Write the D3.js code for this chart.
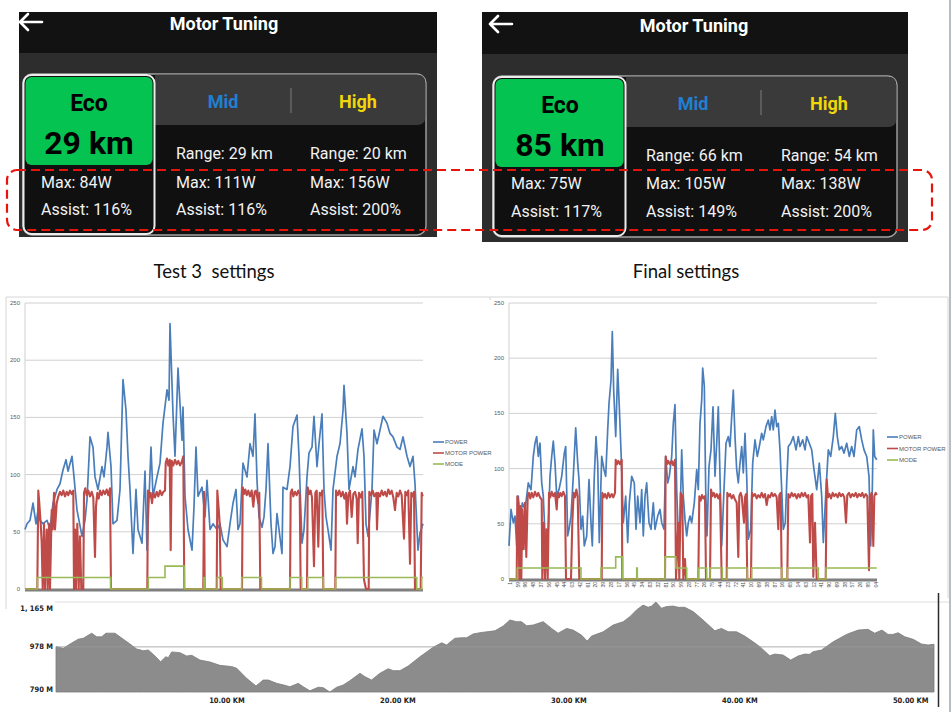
<!DOCTYPE html>
<html><head><meta charset="utf-8">
<script src="https://cdn.jsdelivr.net/npm/d3@7"></script>
<style>body{margin:0;background:#fff}svg{display:block}</style>
</head><body><svg id="c" width="951" height="712"></svg>
<script>
// ---------------- DATA ----------------
const screenTitle = "Motor Tuning";
const modeNames = ["Eco", "Mid", "High"];
const test3Range = ["29 km", "29 km", "20 km"];
const test3Max = ["84W", "111W", "156W"];
const test3Assist = ["116%", "116%", "200%"];
const finalRange = ["85 km", "66 km", "54 km"];
const finalMax = ["75W", "105W", "138W"];
const finalAssist = ["117%", "149%", "200%"];
const panelTitles = ["Test 3  settings", "Final settings"];
const seriesNames = ["POWER", "MOTOR POWER", "MODE"];
const powerTicks = [0, 50, 100, 150, 200, 250];

// Test 3 ride: [sample, watts]
const t3PowerT = [0,2,5,8,11,13,15,18,22,25,28,32,35,38,41,43,47,49,52,54,57,60,62,65,68,70,73,77,79,82,83,86,88,92,95,98,101,103,105,108,111,113,117,120,122,126,128,132,135,138,142,144,145,148,150,153,157,158,160,163,167,169,171,173,177,180,182,185,188,192,195,198,202,205,208,211,213,215,218,222,225,228,230,232,234,237,239,241,243,246,248,250,252,254,257,258,262,265,268,272,274,277,279,282,284,287,289,292,294,297,299,301,303,306,308,312,315,318,319,322,324,328,330,333,337,339,341,343,347,349,352,355,358,362,365,368,372,375,378,382,385,388,390,392,393,395,398];
const t3PowerV = [52,57,60,75,57,69,60,57,60,52,75,87,92,104,113,103,116,98,69,60,46,60,78,133,124,98,87,107,98,124,137,107,57,60,87,183,156,116,87,31,87,52,40,103,34,124,81,98,110,145,174,165,232,153,116,193,130,159,81,52,34,72,124,81,89,63,95,52,57,52,57,43,37,57,75,87,52,57,110,98,127,116,153,95,63,54,63,87,127,57,31,37,66,52,31,89,87,107,142,152,116,40,52,98,119,124,151,107,127,153,87,63,52,34,87,116,127,156,178,136,87,107,98,122,140,116,57,46,87,139,127,139,151,145,136,133,124,122,133,116,107,116,92,52,34,49,57];
const t3Motor = [[0,0],[12.3,0],[13.3,86],[14.3,75],[15.7,57],[16.7,40],[17.7,0],[19,57],[20,0],[21.7,52],[22.7,0],[24,57],[25,0],[26.7,69],[27.7,52],[29,84],[30,52],[31.7,75],[33.3,81],[35,85],[36.7,82],[38.3,86],[40,81],[41.7,85],[43.3,82],[45,86],[46.7,83],[48.3,86],[49,0],[50,52],[51,0],[52.3,57],[53.7,0],[55,46],[56.3,0],[58.3,0],[59,84],[60.3,88],[61.7,82],[63.3,86],[65,81],[66.7,85],[68.3,80],[70,28],[71,72],[72.3,84],[73.7,79],[75,86],[76.7,82],[78.3,86],[80,83],[81.7,87],[83.3,82],[85,88],[86,0],[122.3,0],[123,86],[124.3,80],[125.7,84],[127,75],[128.3,84],[130,80],[131.7,85],[133.3,81],[135,86],[136.7,82],[138.3,85],[140,86],[140.7,110],[142,114],[143.3,108],[144.7,113],[145.7,34],[146.7,112],[148.3,108],[150,113],[151.7,109],[153.3,112],[155,108],[156.7,111],[158.3,116],[159.3,0],[178.3,0],[179,85],[179.7,0],[191.7,0],[192.3,86],[193.7,70],[194.7,57],[195.7,0],[217,0],[217.7,89],[219,83],[220.3,87],[221.7,82],[223.3,86],[225,81],[226.7,86],[228.3,72],[229.7,85],[231,86],[232.3,80],[233.3,75],[234.3,84],[235.3,0],[265,0],[265.7,84],[267,87],[268.3,81],[270,85],[271.7,82],[273.3,86],[274.7,83],[275.7,0],[282,0],[282.7,89],[284.3,83],[285.7,86],[287,80],[289,20],[290.3,84],[291.7,86],[293.3,37],[294.7,84],[296,82],[297.3,86],[298.3,0],[310.3,0],[311,86],[312.7,82],[314.3,86],[316,81],[317.7,85],[319.3,79],[321,84],[322,57],[323.3,82],[325,86],[326.7,63],[328.3,83],[330,85],[331.7,79],[332.7,40],[334,84],[335.7,80],[337.3,85],[339,8],[341,0],[343.7,0],[344.3,85],[346,82],[347.7,86],[349.3,81],[351.3,84],[352,52],[353.3,84],[355,81],[356.7,86],[358.3,82],[360,85],[361.7,81],[363.3,87],[365,83],[366.7,86],[368.3,80],[370,69],[371.7,84],[373.3,81],[375,86],[376.7,82],[379,44],[380.3,85],[381.7,82],[383.3,86],[385,22],[386.3,84],[387.7,81],[389,85],[390,0],[395.7,0],[396.7,84],[397.7,81]];
const t3Mode = [[0,0],[12.3,10],[85.7,0],[123.3,10],[140,20],[159.3,0],[179,10],[179.7,0],[192.3,10],[197.3,0],[216.7,10],[236.5,0],[265,10],[276.7,0],[282.7,10],[298.3,0],[310.7,10],[391.7,0],[396.7,10],[398,10]];

// Final ride: [sample, watts]
const finPower = [[0,30],[2,63],[4.3,51],[6,57],[7.7,30],[9.3,75],[11,51],[13.3,69],[16,63],[17.7,75],[19.3,87],[22,81],[24.3,111],[26,123],[27.7,129],[29.3,111],[31,123],[32.7,87],[34.3,75],[36,39],[37.7,30],[39.3,45],[41,93],[42.7,111],[44.3,125],[46,105],[47.7,75],[50,81],[52.7,93],[55.3,114],[56.7,120],[58.7,39],[60,45],[62,57],[64.3,93],[66.7,137],[68.7,105],[70,90],[72,45],[73.7,57],[75.3,30],[77.7,39],[80,90],[82,51],[83.3,30],[85.3,93],[87,129],[88.7,105],[90.3,33],[92.7,111],[95,99],[96.7,93],[98.7,135],[100,159],[102,180],[103.3,224],[104.7,171],[106.7,129],[108.7,190],[110.3,156],[112.7,99],[114.3,51],[116.7,75],[118.7,33],[120.3,69],[122.7,93],[125.3,87],[127,45],[128.7,75],[131,51],[132.7,81],[134.3,39],[136,75],[137.7,87],[140,51],[142,45],[144.3,69],[146,45],[148.7,57],[151,63],[152.7,51],[155,45],[156.7,111],[158.7,87],[160.3,93],[162.7,111],[164.3,141],[166,158],[167.7,81],[169.3,39],[171,51],[172.7,117],[174.3,75],[176,54],[177.7,39],[179.3,51],[181,57],[182.7,51],[185.3,69],[187.7,99],[189.3,81],[191,141],[192.7,162],[193.7,191],[195.3,175],[196.7,81],[198,39],[200,102],[202,117],[204,156],[206,93],[207.7,123],[209.3,156],[212.7,30],[215,81],[217,123],[219.3,129],[221,120],[222.7,147],[224.3,171],[226,129],[227.7,99],[229.3,87],[231,105],[232.7,120],[234.3,96],[236,132],[237.7,93],[239.3,36],[241.7,45],[243.7,105],[246,126],[248.3,111],[250.3,120],[252.7,132],[254.3,126],[257,138],[259.3,144],[261,135],[262.7,147],[264.3,135],[266,153],[267.7,138],[269.3,141],[271,117],[272.7,81],[274.3,45],[276.3,51],[277.7,87],[279.3,120],[281.7,123],[284.3,129],[287,117],[289.3,129],[291,120],[293.7,126],[296,117],[297.7,129],[300.3,123],[302.7,117],[305,99],[307.7,81],[310.3,105],[312.7,75],[314.3,33],[317,81],[319.3,117],[321.7,111],[324.3,129],[326.3,150],[328.3,129],[330.3,117],[332.7,120],[335,114],[337.7,123],[340.3,111],[342.7,120],[345,111],[347.7,135],[350.3,138],[352.7,126],[355,117],[357.7,111],[360,93],[361.7,30],[363.3,81],[364.3,135],[365.7,111],[367.7,108]];
const finMotor = [[0,0],[7.7,0],[8.3,75],[9.3,69],[10.3,0],[11.3,66],[12.3,0],[13.3,63],[14.7,27],[16,69],[17.3,20],[18.7,75],[20,78],[21.3,73],[22.7,78],[24.3,74],[26,79],[27.7,75],[29.3,78],[31,74],[32.7,72],[33.3,0],[34.7,51],[36,0],[37.3,45],[38.7,0],[40,78],[41.3,74],[42.7,79],[44.3,75],[46,78],[47.7,63],[48.7,78],[50,74],[51.3,78],[52.7,75],[54.3,79],[56,75],[57,0],[62,0],[63.3,51],[64.7,78],[66,74],[67.3,81],[68.7,75],[70.3,0],[92.7,0],[93.3,78],[94.7,74],[96,77],[97.7,73],[99.3,78],[101,74],[102.7,77],[104.3,74],[106,78],[106.7,108],[108,104],[109.3,107],[111,104],[112.7,108],[113.3,0],[156,0],[156.7,111],[158,104],[159.3,107],[161,104],[162.7,107],[164.3,103],[166,108],[167,0],[169.3,51],[170.3,0],[171.7,78],[173.3,75],[174.3,0],[176,18],[177,0],[189.3,0],[190.3,75],[191.7,71],[193,76],[194.3,73],[196,75],[197,0],[201,0],[202,81],[203.3,75],[204.7,78],[206,74],[207.7,77],[209.3,73],[211,77],[212.7,0],[217.7,0],[218.3,78],[219.7,75],[221,77],[222.7,73],[224.3,76],[226,72],[227.7,69],[229.3,20],[230.3,75],[231.7,78],[232.7,75],[235,51],[236,74],[237,77],[238.3,0],[242,0],[243,78],[244.3,75],[246,77],[247.7,73],[249.3,76],[251,74],[252.7,78],[254.3,74],[256,77],[257.7,67],[259.3,76],[261,74],[262.7,78],[264.3,75],[266,77],[267.7,74],[269.3,45],[270.3,76],[271.7,78],[272.7,0],[278.3,0],[279.3,77],[281,74],[282.7,78],[284.3,75],[286,77],[287.7,73],[289.3,77],[291,74],[292.7,78],[294.3,75],[296,78],[297.7,74],[299.3,76],[301,33],[302,75],[303.3,77],[304.3,2],[306,51],[307.7,0],[316.7,0],[317.7,90],[319,74],[320.3,77],[322,73],[323.7,78],[325.3,75],[327,77],[328.7,74],[330.3,78],[332,75],[333.7,77],[335.3,74],[337,51],[338.3,76],[340,78],[341.7,74],[343.3,77],[345,75],[346.7,78],[348.3,74],[350,77],[351.7,75],[353.3,78],[355,74],[356.7,77],[358.3,75],[360,8],[361,75],[362.7,78],[364.3,30],[365.3,75],[366.7,78],[367.7,76]];
const finMode = [[0,0],[8.3,10],[72,0],[92,10],[106.7,20],[113.7,0],[127.7,10],[128.3,0],[156,20],[166.7,10],[177.7,0],[189.3,10],[197.7,0],[201,10],[213.3,0],[218.3,10],[238.3,0],[242.7,10],[272.7,0],[278.3,10],[309.3,0],[317,10],[367.7,10]];
const finCategoryLabels = ["1","59","96","48","37","56","45","44","03","42","61","20","39","28","17","56","45","34","83","32","81","50","59","28","77","26","75","44","23","72","41","10","69","38","87","16","65","14","63","12","41","90","69","38","57","26","95","04"];

// Elevation profile: [km, metres]
const elevation = [[0,979],[0.43,972],[0.82,990],[1.30,1010],[1.60,1014],[2.09,1035],[2.38,1020],[2.67,1020],[2.92,1035],[3.45,1035],[3.74,1020],[4.23,995],[4.72,969],[5.11,962],[5.40,965],[5.79,940],[6.12,916],[6.42,937],[6.57,933],[6.77,957],[7.25,954],[7.64,940],[7.94,943],[8.42,923],[9.01,915],[9.59,901],[10.27,896],[10.57,889],[11.15,847],[11.70,815],[12.12,840],[12.42,840],[12.91,826],[13.39,818],[13.68,812],[14.17,826],[14.46,812],[14.85,795],[15.34,810],[15.63,808],[16.02,790],[16.42,810],[16.80,819],[17.19,837],[17.78,868],[18.07,854],[18.46,840],[18.95,868],[19.43,887],[19.73,879],[20.12,879],[20.60,898],[21.29,937],[22.06,976],[22.56,995],[22.85,986],[23.33,1014],[23.73,1016],[24.02,1016],[24.40,1032],[24.80,1037],[24.99,1039],[25.67,1045],[26.16,1065],[26.55,1090],[26.94,1083],[27.23,1083],[27.53,1066],[27.91,1069],[28.50,1083],[28.99,1055],[29.37,1035],[29.87,1055],[30.25,1048],[30.74,1027],[31.07,1002],[31.33,1023],[32.01,1041],[32.59,1069],[33.18,1083],[33.57,1104],[33.96,1132],[34.34,1152],[34.64,1143],[34.84,1148],[35.09,1165],[35.42,1139],[35.71,1146],[36.10,1148],[36.39,1143],[36.78,1143],[37.27,1125],[37.85,1090],[38.54,1045],[38.93,1055],[39.32,1041],[39.81,1041],[40.29,1023],[40.78,999],[41.17,979],[41.75,941],[42.05,948],[42.53,944],[42.98,923],[43.41,940],[43.80,948],[44.09,947],[44.29,958],[44.78,965],[45.46,999],[46.24,1030],[46.92,1048],[47.50,1051],[47.89,1035],[48.32,1048],[48.67,1030],[48.96,1030],[49.26,1037],[49.65,1020],[50.13,1010],[50.63,990],[51.01,986],[51.36,989]];
const elevTicks = [790, 978, 1165];
const elevTickLabels = ["790 M", "978 M", "1, 165 M"];
const kmTicks = [10, 20, 30, 40, 50];
const kmTickLabels = ["10.00 KM", "20.00 KM", "30.00 KM", "40.00 KM", "50.00 KM"];

// ---------------- DRAW ----------------
const svg = d3.select("#c");
const COL = {power: "#4a7ebb", motor: "#be4b48", mode: "#98b954"};

function drawPhone(L, range, max, assist) {
  const g = svg.append("g");
  g.append("rect").attr("x", L.x0).attr("y", L.y0).attr("width", L.x1 - L.x0).attr("height", L.y1 - L.y0).attr("fill", "#2d2d2d");
  g.append("rect").attr("x", L.x0).attr("y", L.y0).attr("width", L.x1 - L.x0).attr("height", L.hb - L.y0).attr("fill", "#121212");
  g.append("path").attr("d", `M${L.ax + 22},${L.ay}H${L.ax}M${L.ax + 8},${L.ay - 8}L${L.ax},${L.ay}L${L.ax + 8},${L.ay + 8}`)
    .attr("fill", "none").attr("stroke", "#fff").attr("stroke-width", 2.6).attr("stroke-linecap", "round").attr("stroke-linejoin", "round");
  g.append("text").attr("x", L.tcx).attr("y", L.ty).attr("text-anchor", "middle").attr("dominant-baseline", "central")
    .attr("font-family", "Roboto").attr("font-weight", "bold").attr("font-size", 18).attr("fill", "#fff").text(screenTitle);
  g.append("rect").attr("x", L.pl).attr("y", L.pt).attr("width", L.pr - L.pl).attr("height", L.pb - L.pt).attr("rx", 9)
    .attr("fill", "#101010").attr("stroke", "#a3a3a3").attr("stroke-width", 1.4);
  g.append("path").attr("d", `M${L.er},${L.pt + 0.8}H${L.pr - 9}Q${L.pr - 0.8},${L.pt + 0.8} ${L.pr - 0.8},${L.pt + 9}V${L.tb - 8}Q${L.pr - 0.8},${L.tb} ${L.pr - 9},${L.tb}H${L.er}Z`)
    .attr("fill", "#3a3a3a");
  g.append("line").attr("x1", L.sx).attr("x2", L.sx).attr("y1", L.pt + 14).attr("y2", L.tb - 12).attr("stroke", "#6e6e6e").attr("stroke-width", 1.3);
  g.append("rect").attr("x", L.pl + 0.5).attr("y", L.pt + 1).attr("width", L.er - L.pl - 1).attr("height", L.pb - L.pt - 2).attr("rx", 8)
    .attr("fill", "#101010").attr("stroke", "#ececec").attr("stroke-width", 2);
  g.append("rect").attr("x", L.pl + 2.5).attr("y", L.pt + 3).attr("width", L.er - L.pl - 5).attr("height", L.gb - L.pt - 3).attr("rx", 6)
    .attr("fill", "#05c350");
  const txt = (x, y, s, o) => g.append("text").attr("x", x).attr("y", y).attr("dominant-baseline", "central")
    .attr("font-family", "Roboto").attr("font-size", o.size).attr("font-weight", o.w || "normal")
    .attr("text-anchor", o.anchor || "start").attr("fill", o.fill || "#f2f2f2").text(s);
  txt(L.ecx, L.yEco, modeNames[0], {size: 23, w: "bold", anchor: "middle", fill: "#000"});
  txt(L.ecx, L.yKm, range[0], {size: 32, w: "bold", anchor: "middle", fill: "#000"});
  txt(L.mcx, L.yTab, modeNames[1], {size: 18, w: "bold", anchor: "middle", fill: "#1f80d2"});
  txt(L.hcx, L.yTab, modeNames[2], {size: 18, w: "bold", anchor: "middle", fill: "#f1d60a"});
  for (let i = 1; i < 3; i++) txt(L.cols[i], L.yRange, "Range: " + range[i], {size: 16});
  for (let i = 0; i < 3; i++) {
    txt(L.cols[i], L.yMax, "Max: " + max[i], {size: 16});
    txt(L.cols[i], L.yAssist, "Assist: " + assist[i], {size: 16});
  }
}

drawPhone({x0: 19, y0: 12, x1: 437, y1: 237, hb: 53, ax: 20, ay: 22, tcx: 224, ty: 23,
  pl: 23, pr: 426, pt: 74, pb: 235, tb: 125, er: 155, gb: 165, sx: 291,
  ecx: 89, mcx: 223, hcx: 358, yTab: 101, yEco: 103, yKm: 143, yRange: 153, yMax: 182, yAssist: 209,
  cols: [41, 176, 310]}, test3Range, test3Max, test3Assist);
drawPhone({x0: 482, y0: 12, x1: 908, y1: 242, hb: 54, ax: 490, ay: 24, tcx: 694, ty: 25,
  pl: 493, pr: 897, pt: 76, pb: 237, tb: 127, er: 626, gb: 167, sx: 761,
  ecx: 560, mcx: 693, hcx: 829, yTab: 103, yEco: 105, yKm: 145, yRange: 155, yMax: 183, yAssist: 211,
  cols: [511, 646, 781]}, finalRange, finalMax, finalAssist);

svg.append("rect").attr("x", 7).attr("y", 170).attr("width", 925).attr("height", 60).attr("rx", 10)
  .attr("fill", "none").attr("stroke", "#e8140c").attr("stroke-width", 2.2).attr("stroke-dasharray", "9,5");

svg.selectAll("text.ptitle").data(panelTitles).join("text").attr("class", "ptitle")
  .attr("x", (d, i) => [214, 686][i]).attr("y", 278).attr("text-anchor", "middle")
  .attr("font-family", "Lato").attr("font-size", 18.5).attr("fill", "#111")
  .style("white-space", "pre").text(d => d);

svg.append("path").attr("d", "M6,609V297H490").attr("fill", "none").attr("stroke", "#d6d6d6");
svg.append("path").attr("d", "M490,300V297H948V598").attr("fill", "none").attr("stroke", "#d6d6d6");

function drawPowerChart(C, power, motor, mode, cats) {
  const x = d3.scaleLinear().domain(C.dom).range([C.l, C.r]);
  const y = d3.scaleLinear().domain([0, 250]).range([C.b, C.t]);
  const g = svg.append("g");
  g.append("g").selectAll("line").data(powerTicks.filter(d => d > 0)).join("line")
    .attr("x1", C.l).attr("x2", C.r).attr("y1", d => y(d)).attr("y2", d => y(d))
    .attr("stroke", "#d0d0d0").attr("stroke-width", 1);
  g.append("line").attr("x1", C.l).attr("x2", C.l).attr("y1", y(250)).attr("y2", y(0)).attr("stroke", "#cfcfcf");
  g.append("g").selectAll("text").data(powerTicks).join("text")
    .attr("x", C.l - 5).attr("y", d => y(d)).attr("text-anchor", "end").attr("dominant-baseline", "central")
    .attr("font-family", "Liberation Sans").attr("font-size", 6).attr("fill", "#595959").text(d => d);
  g.append("line").attr("x1", C.l).attr("x2", C.r).attr("y1", y(0) + 1).attr("y2", y(0) + 1)
    .attr("stroke", "#7f7f7f").attr("stroke-width", 3);
  if (cats) {
    const xc = d3.scalePoint().domain(d3.range(cats.length)).range([C.l + 1, C.r - 1]);
    g.append("g").selectAll("text").data(cats).join("text")
      .attr("transform", (d, i) => `translate(${xc(i) + 1.8},${y(0) + 3}) rotate(-90)`)
      .attr("text-anchor", "end").attr("font-family", "Liberation Sans").attr("font-size", 5).attr("fill", "#4a4a4a").text(d => d);
  }
  const line = d3.line().x(d => x(d[0])).y(d => y(d[1]));
  g.append("path").attr("d", line(power)).attr("fill", "none").attr("stroke", COL.power).attr("stroke-width", 1.7).attr("stroke-linejoin", "round");
  g.append("path").attr("d", line(motor)).attr("fill", "none").attr("stroke", COL.motor).attr("stroke-width", 2.1).attr("stroke-linejoin", "round");
  g.append("path").attr("d", line.curve(d3.curveStepAfter)(mode)).attr("fill", "none").attr("stroke", COL.mode).attr("stroke-width", 1.6);
  const cols = [COL.power, COL.motor, COL.mode];
  const lg = g.append("g").selectAll("g").data(seriesNames).join("g")
    .attr("transform", (d, i) => `translate(${C.lx},${C.ly + i * C.lstep})`);
  lg.append("line").attr("x1", 0).attr("x2", 11).attr("stroke", (d, i) => cols[i]).attr("stroke-width", 1.6);
  lg.append("text").attr("x", 12).attr("dominant-baseline", "central").attr("font-family", "Liberation Sans")
    .attr("font-size", 6).attr("fill", "#595959").text(d => d);
}

drawPowerChart({dom: [0, 398], l: 25, r: 423, t: 303, b: 589, lx: 433, ly: 442, lstep: 11},
  d3.zip(t3PowerT, t3PowerV), t3Motor, t3Mode, null);
drawPowerChart({dom: [0, 368], l: 509, r: 877, t: 303, b: 579, lx: 887, ly: 437, lstep: 11.5},
  finPower, finMotor, finMode, finCategoryLabels);

const eg = svg.append("g");
eg.append("rect").attr("x", 10).attr("y", 594).attr("width", 928).attr("height", 118).attr("fill", "#fff");
const ex = d3.scaleLinear().domain([0, 51.36]).range([56, 934]);
const ey = d3.scaleLinear().domain([790, 1165]).range([692, 602]);
eg.append("line").attr("x1", 55).attr("x2", 950).attr("y1", ey(1165)).attr("y2", ey(1165)).attr("stroke", "#dedede");
eg.append("path").attr("d", d3.area().x(d => ex(d[0])).y0(ey(790)).y1(d => ey(Math.max(790, d[1])))(elevation))
  .attr("fill", "#8c8c8c").attr("stroke", "#7c7c7c").attr("stroke-width", 0.8);
eg.append("line").attr("x1", 56).attr("x2", 934).attr("y1", ey(978)).attr("y2", ey(978)).attr("stroke", "#9a9a9a").attr("stroke-width", 0.8);
eg.selectAll("text.ey").data(elevTicks).join("text").attr("class", "ey")
  .attr("x", 53).attr("y", d => ey(d) + (d === 1165 ? 6 : d === 790 ? -3 : 0)).attr("text-anchor", "end").attr("dominant-baseline", "central")
  .attr("font-family", "DejaVu Sans Condensed, DejaVu Sans").attr("font-weight", "bold").attr("font-size", 7.5).attr("fill", "#222")
  .text((d, i) => elevTickLabels[i]);
eg.selectAll("text.ex").data(kmTicks).join("text").attr("class", "ex")
  .attr("x", d => ex(d)).attr("y", 700).attr("text-anchor", "middle").attr("dominant-baseline", "central")
  .attr("font-family", "DejaVu Sans Condensed, DejaVu Sans").attr("font-weight", "bold").attr("font-size", 7.5).attr("fill", "#222")
  .text((d, i) => kmTickLabels[i]);
eg.append("line").attr("x1", 938.5).attr("x2", 938.5).attr("y1", 593).attr("y2", 707).attr("stroke", "#2a2a2a").attr("stroke-width", 1.5);
svg.append("line").attr("x1", 950).attr("x2", 950).attr("y1", 0).attr("y2", 712).attr("stroke", "#9aa8ba").attr("stroke-width", 1.5);
</script></body></html>
